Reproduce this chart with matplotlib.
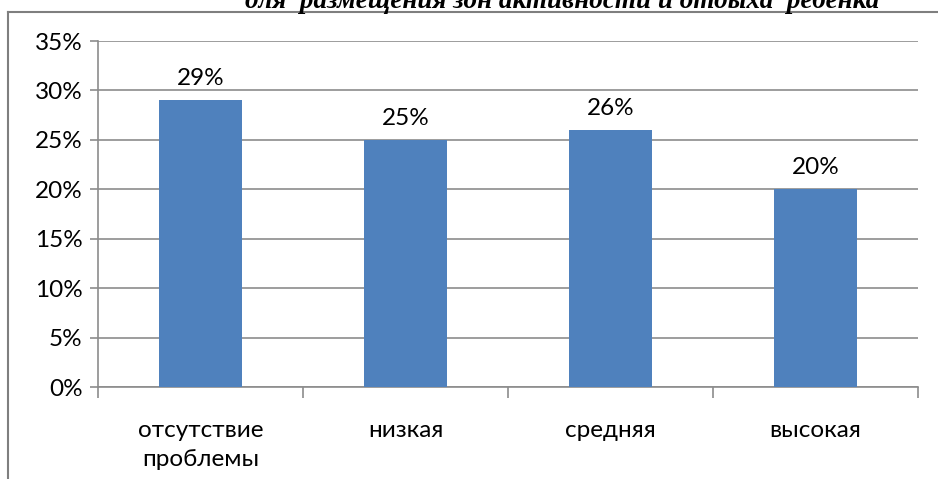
import matplotlib.pyplot as plt
import numpy as np
from matplotlib.lines import Line2D

categories = ["отсутствие\nпроблемы", "низкая", "средняя", "высокая"]
values = [29, 25, 26, 20]
labels = ["29%", "25%", "26%", "20%"]
y_ticks = [0, 5, 10, 15, 20, 25, 30, 35]

plt.rcParams['font.family'] = ['Lato', 'DejaVu Sans']

fig = plt.figure(figsize=(9.38, 4.79), dpi=100)
ax = fig.add_axes([98/938, 1 - 387/479, 820/938, 346/479])

x = np.arange(len(categories))
ax.bar(x, values, width=0.405, color='#4f81bd', zorder=3)
for xi, v, lab in zip(x, values, labels):
    ax.text(xi, v + 1.1, lab, ha='center', va='bottom', fontsize=17.5)

ax.set_xlim(-0.5, 3.5)
ax.set_ylim(0, 35)
ax.set_yticks(y_ticks)
ax.set_yticklabels([f"{t}%" for t in y_ticks], fontsize=17.5)
ax.yaxis.grid(True, color='#8c8c8c', linewidth=1.2, zorder=0)

ax.set_xticks(x)
ax.set_xticklabels(categories, fontsize=17.5, linespacing=1.45)
ax.tick_params(axis='x', length=0, pad=24)
ax.set_xticks(np.arange(-0.5, 4, 1), minor=True)
ax.tick_params(axis='x', which='minor', length=8, color='#8c8c8c', width=1.2)
ax.tick_params(axis='y', length=6, color='#8c8c8c', width=1.2, pad=5)

for s in ['top', 'right']:
    ax.spines[s].set_visible(False)
for s in ['left', 'bottom']:
    ax.spines[s].set_color('#8c8c8c')
    ax.spines[s].set_linewidth(1.2)

# chart frame
fig.add_artist(Line2D([8/938, 1.0], [1 - 12/479, 1 - 12/479], color='#7f7f7f', linewidth=1.5))
fig.add_artist(Line2D([8/938, 8/938], [0, 1 - 12/479], color='#7f7f7f', linewidth=1.5))

fig.text(562/938, 1 - 8/479, "для  размещения зон активности и отдыха  ребенка",
         ha='center', va='baseline', fontsize=19.5, fontweight='bold', fontstyle='italic',
         family='Liberation Serif')

fig.savefig("out.png", dpi=100)
